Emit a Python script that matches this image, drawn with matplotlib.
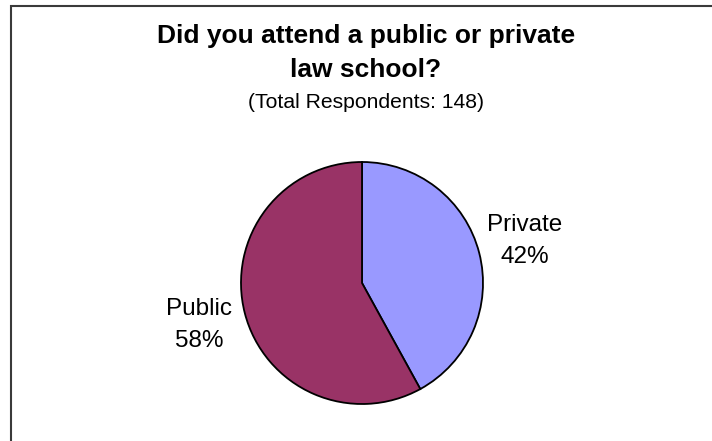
import matplotlib.pyplot as plt
from matplotlib.patches import Rectangle

# data
labels = ['Private', 'Public']
values = [42, 58]
colors = ['#9999FF', '#993366']
title_lines = ['Did you attend a public or private', 'law school?']
subtitle = '(Total Respondents: 148)'

W, H = 712, 441
plt.rcParams['font.family'] = ['Liberation Sans', 'DejaVu Sans']

fig = plt.figure(figsize=(W/100, H/100), dpi=100)
ax = fig.add_axes([0, 0, 1, 1])

# pie in pixel-like data coords (y going up)
ax.pie(values, labels=[f'{l}\n{v}%' for l, v in zip(labels, values)],
       colors=colors, startangle=90, counterclock=False,
       center=(362, H - 283), radius=121, frame=True,
       labeldistance=1.39,
       wedgeprops=dict(edgecolor='black', linewidth=1.3),
       textprops=dict(fontsize=17.5, ha='center', va='center',
                      multialignment='center', linespacing=1.6))
ax.set_xlim(0, W)
ax.set_ylim(0, H)
ax.axis('off')

# title
for i, line in enumerate(title_lines):
    fig.text(366/W, 1 - (43 + 34*i)/H, line, ha='center', va='baseline',
             fontsize=19, fontweight='bold')
fig.text(366/W, 1 - 108/H, subtitle, ha='center', va='baseline', fontsize=15.2)

# chart area border (only top and left are in view)
fig.add_artist(Rectangle((11/W, -0.1), 1.2, 1 - 5.5/H + 0.1,
                         transform=fig.transFigure, fill=False,
                         edgecolor='#3a3a3a', linewidth=1.5))

fig.savefig('out.png', dpi=100)
